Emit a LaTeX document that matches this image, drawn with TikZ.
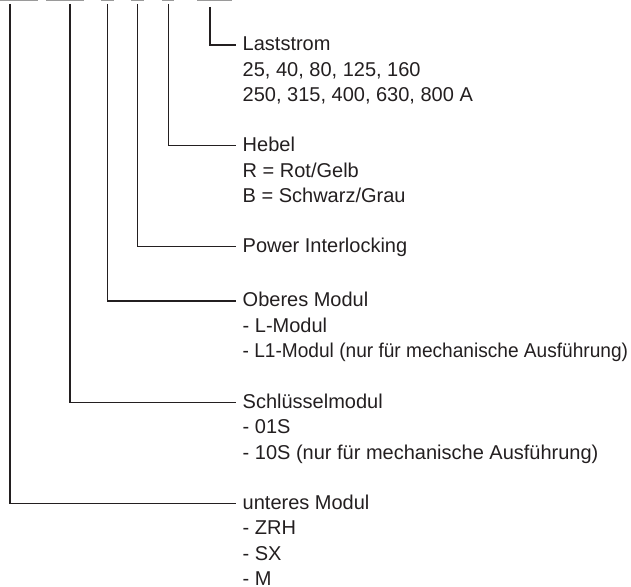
\documentclass[tikz,border=0pt]{standalone}
\usepackage{graphicx}
\usepackage{fontspec}
\setmainfont{Liberation Sans}
\definecolor{ink}{HTML}{231F20}
\definecolor{bar}{HTML}{9A9A9A}
\newcommand{\lines}[1]{\vtop{\fontsize{20}{25.5}\selectfont\halign{##\hfil\cr#1\crcr}}}
\begin{document}
\begin{tikzpicture}[x=1pt,y=-1pt,
  conn/.style={draw=ink,line width=1.1pt},
  topbar/.style={draw=bar,line width=2pt},
  lbl/.style={anchor=base west,inner sep=0pt,text=ink,font=\fontsize{20}{25.5}\selectfont}]
\useasboundingbox (0,0) rectangle (631,586);
% top bars
\draw[topbar] (0,0) -- (38,0);
\draw[topbar] (45.5,0) -- (83.5,0);
\draw[topbar] (101,0) -- (113.5,0);
\draw[topbar] (131,0) -- (144,0);
\draw[topbar] (161.5,0) -- (173.5,0);
\draw[topbar] (196.5,0) -- (232,0);
% start coordinates
\coordinate (s1) at (210,7);
\coordinate (s2) at (168.3,4);
\coordinate (s3) at (137.3,4);
\coordinate (s4) at (107.3,4);
\coordinate (s5) at (70,4);
\coordinate (s6) at (10,4);
% corners
\coordinate (c1) at (210,45);
\coordinate (c2) at (168.3,145.5);
\coordinate (c3) at (137.3,246.5);
\coordinate (c4) at (107.3,301);
\coordinate (c5) at (70,402.5);
\coordinate (c6) at (10,503.5);
% ends
\coordinate (e1) at (236,45);
\coordinate (e2) at (236,145.5);
\coordinate (e3) at (236,246.5);
\coordinate (e4) at (236,301);
\coordinate (e5) at (236,402.5);
\coordinate (e6) at (236,503.5);
\draw[conn] (s1) -- (c1) -- (e1);
\draw[conn] (s2) -- (c2) -- (e2);
\draw[conn] (s3) -- (c3) -- (e3);
\draw[conn] (s4) -- (c4) -- (e4);
\draw[conn] (s5) -- (c5) -- (e5);
\draw[conn] (s6) -- (c6) -- (e6);
% labels
\node[lbl] (t1) at (242.5,50.5) {\lines{Laststrom\cr 25, 40, 80, 125, 160\cr 250, 315, 400, 630, 800 A}};
\node[lbl] (t2) at (242.5,151.5) {\lines{Hebel\cr R = Rot/Gelb\cr B = Schwarz/Grau}};
\node[lbl] (t3) at (242.5,252) {\lines{Power Interlocking}};
\node[lbl] (t4) at (242.5,306.5) {\lines{Oberes Modul\cr - L-Modul\cr \scalebox{0.955}[1]{- L1-Modul (nur für mechanische Ausführung)}}};
\node[lbl] (t5) at (242.5,408) {\lines{Schlüsselmodul\cr - 01S\cr - 10S (nur für mechanische Ausführung)}};
\node[lbl] (t6) at (242.5,509) {\lines{unteres Modul\cr - ZRH\cr - SX\cr - M}};
\end{tikzpicture}
\end{document}
